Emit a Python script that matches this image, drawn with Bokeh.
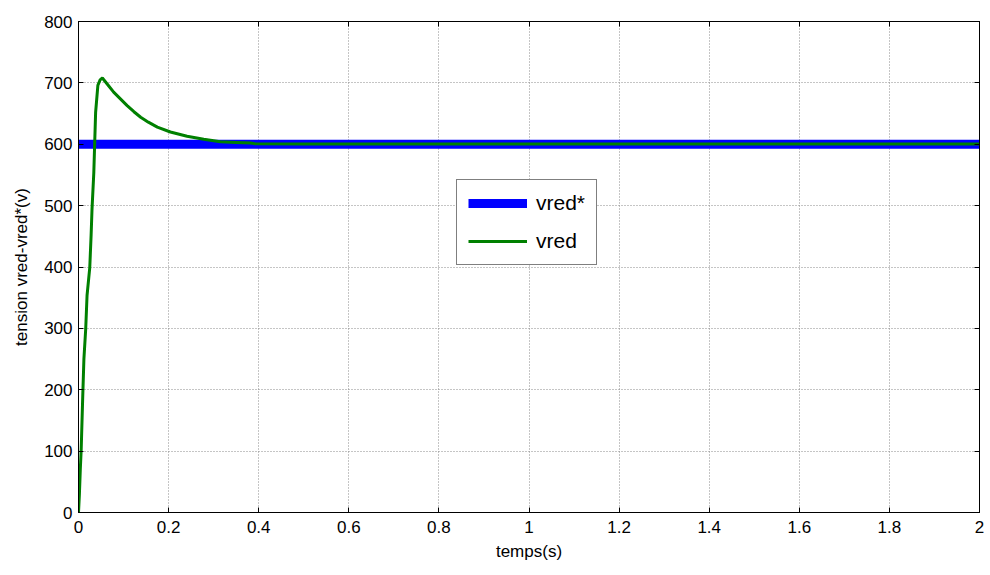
from bokeh.plotting import figure
from bokeh.models import LinearAxis, FixedTicker, CustomJSTickFormatter, Legend, LegendItem, Range1d
from bokeh.embed import file_html
from bokeh.resources import INLINE

# ---- data ----
t_ref = [0.0, 2.0]
v_ref = [600, 600]

t_meas = [0.0, 0.002, 0.004, 0.006, 0.009, 0.012, 0.016, 0.019, 0.025, 0.028, 0.030,
          0.034, 0.038, 0.043, 0.048, 0.053, 0.065, 0.078, 0.093, 0.108, 0.123, 0.138,
          0.155, 0.175, 0.204, 0.241, 0.278, 0.315, 0.35, 0.382, 0.39, 0.5, 1.0, 1.5, 2.0]
v_meas = [0, 30, 70, 103, 179, 250, 299, 354, 399, 452, 494,
          554, 652, 696, 705, 708, 697, 685, 674, 663, 653, 644,
          636, 628, 620, 613, 608, 604, 603, 602, 601, 600.5, 600.5, 600.5, 600.5]

x_ticks = [0, 0.2, 0.4, 0.6, 0.8, 1.0, 1.2, 1.4, 1.6, 1.8, 2.0]
x_tick_labels = ["0", "0.2", "0.4", "0.6", "0.8", "1", "1.2", "1.4", "1.6", "1.8", "2"]
y_ticks = [0, 100, 200, 300, 400, 500, 600, 700, 800]
y_tick_labels = ["0", "100", "200", "300", "400", "500", "600", "700", "800"]

FONT = "Liberation Sans"

p = figure(width=990, height=575, output_backend="svg", toolbar_location=None,
           x_range=Range1d(0, 2), y_range=Range1d(0, 800),
           x_axis_label="temps(s)", y_axis_label="tension vred-vred*(v)",
           min_border_left=78, min_border_right=11, min_border_top=21, min_border_bottom=63)
p.background_fill_color = "white"
p.border_fill_color = "white"
p.outline_line_color = "black"
p.outline_line_width = 1

p.xaxis.ticker = FixedTicker(ticks=x_ticks)
p.yaxis.ticker = FixedTicker(ticks=y_ticks)
p.xaxis.major_label_overrides = {k: v for k, v in zip(x_ticks, x_tick_labels)}
p.yaxis.major_label_overrides = {k: v for k, v in zip(y_ticks, y_tick_labels)}

for ax in (p.xaxis[0], p.yaxis[0]):
    ax.major_tick_in = 5
    ax.major_tick_out = 0
    ax.minor_tick_line_color = None
    ax.axis_line_color = "black"
    ax.major_tick_line_color = "black"
    ax.major_label_text_font = FONT
    ax.major_label_text_font_size = "17px"
    ax.major_label_text_color = "black"
    ax.axis_label_text_font = FONT
    ax.axis_label_text_font_size = "17px"
    ax.axis_label_text_font_style = "normal"
    ax.axis_label_text_color = "black"
p.xaxis.major_label_standoff = 8
p.yaxis.major_label_standoff = 6
p.xaxis.axis_label_standoff = 6
p.yaxis.axis_label_standoff = 10

blank = CustomJSTickFormatter(code="return '';")
right = LinearAxis(ticker=FixedTicker(ticks=y_ticks), formatter=blank,
                   major_tick_in=5, major_tick_out=0, minor_tick_line_color=None,
                   axis_line_color="black", major_label_standoff=0)
top = LinearAxis(ticker=FixedTicker(ticks=x_ticks), formatter=blank,
                 major_tick_in=5, major_tick_out=0, minor_tick_line_color=None,
                 axis_line_color="black", major_label_standoff=0)
p.add_layout(right, "right")
p.add_layout(top, "above")

p.xgrid.ticker = FixedTicker(ticks=x_ticks)
p.ygrid.ticker = FixedTicker(ticks=y_ticks)
p.grid.grid_line_color = "#8a8a8a"
p.grid.grid_line_dash = "1 2"
p.grid.grid_line_width = 1

r_ref = p.line(t_ref, v_ref, line_color="#0000ff", line_width=9)
r_meas = p.line(t_meas, v_meas, line_color="#008000", line_width=3)

legend = Legend(items=[LegendItem(label="vred*", renderers=[r_ref]),
                       LegendItem(label="vred", renderers=[r_meas])],
                location=(378, 247))
legend.label_text_font = FONT
legend.label_text_font_size = "21px"
legend.label_text_color = "black"
legend.glyph_width = 59
legend.glyph_height = 22
legend.label_height = 22
legend.spacing = 14
legend.padding = 11
legend.margin = 0
legend.label_standoff = 9
legend.border_line_color = "black"
legend.border_line_width = 1
legend.background_fill_color = "white"
legend.background_fill_alpha = 1.0
p.add_layout(legend, "center")

open("out.html", "w").write(file_html(p, INLINE))
